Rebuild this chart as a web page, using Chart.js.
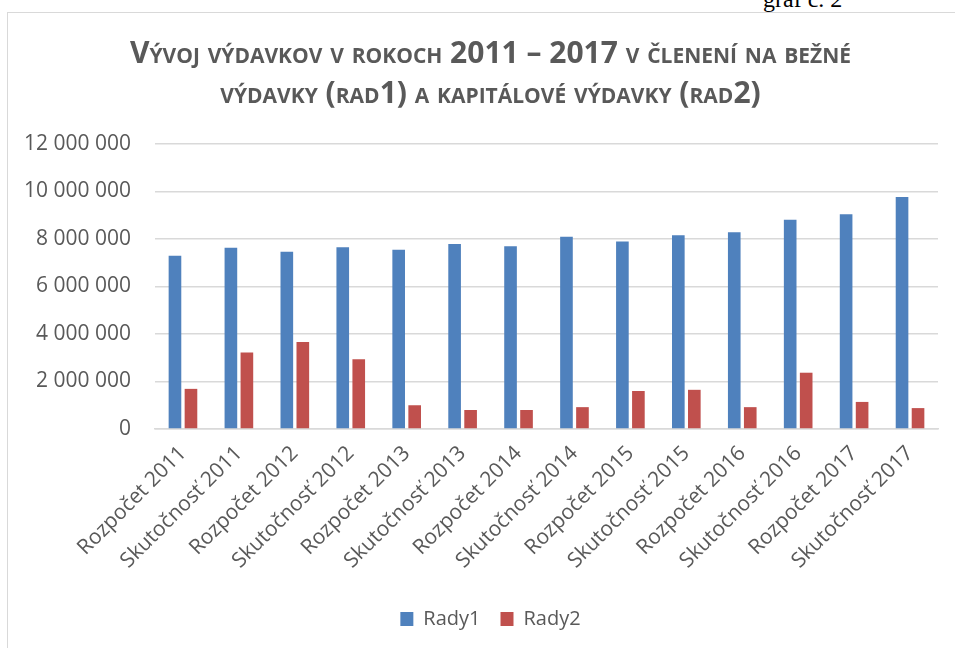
<!DOCTYPE html>
<html>
<head>
<meta charset="utf-8">
<script src="https://cdn.jsdelivr.net/npm/chart.js@4"></script>
<style>
    body { margin: 0; background: #fff; width: 955px; height: 648px; overflow: hidden; position: relative; }
    #frame { position: absolute; left: 7px; top: 12px; width: 960px; height: 650px; border: 1.5px solid #d9d9d9; box-sizing: border-box; }
    #box { position: absolute; left: 8px; top: 13px; width: 947px; height: 635px; }
    #graf { position: absolute; left: 763px; top: -14px; font: 24px "Liberation Serif", serif; color: #000; }
</style>
</head>
<body>
<div id="graf">graf č. 2</div>
<div id="frame"></div>
<div id="box"><canvas id="chart"></canvas></div>
<script>
    // Kategórie a hodnoty odčítané z grafu
    const categories = [
        'Rozpočet 2011', 'Skutočnosť 2011', 'Rozpočet 2012', 'Skutočnosť 2012',
        'Rozpočet 2013', 'Skutočnosť 2013', 'Rozpočet 2014', 'Skutočnosť 2014',
        'Rozpočet 2015', 'Skutočnosť 2015', 'Rozpočet 2016', 'Skutočnosť 2016',
        'Rozpočet 2017', 'Skutočnosť 2017'
    ];
    const rady1 = [7290000, 7630000, 7460000, 7650000, 7550000, 7790000, 7690000,
                   8090000, 7900000, 8160000, 8280000, 8810000, 9040000, 9770000];
    const rady2 = [1690000, 3220000, 3660000, 2940000, 1000000, 800000, 800000,
                   920000, 1600000, 1650000, 920000, 2370000, 1140000, 880000];
    const titleLines = [
        'Vývoj výdavkov v rokoch 2011 – 2017 v členení na bežné',
        'výdavky (rad1) a kapitálové výdavky (rad2)'
    ];

    const gray = '#595959';

    function formatNumber(v) {
        return String(v).replace(/\B(?=(\d{3})+(?!\d))/g, ' ');
    }

    // posun nadpisu a legendy trochu doprava, ako v origináli
    const shiftBlocks = {
        id: 'shiftBlocks',
        afterLayout(chart) {
            [chart.titleBlock, chart.legend].forEach(b => {
                if (b) { b.left += 9; b.right += 9; }
            });
        }
    };

    new Chart(document.getElementById('chart'), {
        type: 'bar',
        data: {
            labels: categories,
            datasets: [
                { label: 'Rady1', data: rady1, backgroundColor: '#4f81bd', barPercentage: 0.79, categoryPercentage: 0.572 },
                { label: 'Rady2', data: rady2, backgroundColor: '#c0504d', barPercentage: 0.79, categoryPercentage: 0.572 }
            ]
        },
        options: {
            responsive: true,
            maintainAspectRatio: false,
            animation: false,
            layout: { padding: { left: 17, right: 17, top: 21, bottom: 9 } },
            plugins: {
                title: {
                    display: true,
                    text: titleLines,
                    color: gray,
                    font: { family: 'Open Sans', size: 30, weight: 'small-caps bold', lineHeight: 40 / 30 },
                    padding: { top: 0, bottom: 30 }
                },
                legend: {
                    position: 'bottom',
                    labels: {
                        color: gray,
                        font: { family: 'Open Sans', size: 20 },
                        boxWidth: 13,
                        boxHeight: 14,
                        padding: 20
                    }
                },
                tooltip: { enabled: false }
            },
            scales: {
                x: {
                    grid: { display: false },
                    border: { color: '#d9d9d9', width: 1.5 },
                    ticks: {
                        color: gray,
                        font: { family: 'Open Sans', size: 21 },
                        minRotation: 45,
                        maxRotation: 45,
                        autoSkip: false,
                        padding: 4
                    },
                    afterFit: scale => { scale.height = 160; }
                },
                y: {
                    min: 0,
                    max: 12000000,
                    grid: { color: '#d9d9d9', lineWidth: 1.5, drawTicks: false },
                    border: { display: false },
                    ticks: {
                        stepSize: 2000000,
                        color: gray,
                        font: { family: 'Open Sans', size: 21 },
                        padding: 24,
                        callback: v => formatNumber(v)
                    },
                    afterFit: scale => { scale.width = 130; }
                }
            }
        },
        plugins: [shiftBlocks]
    });
</script>
</body>
</html>
